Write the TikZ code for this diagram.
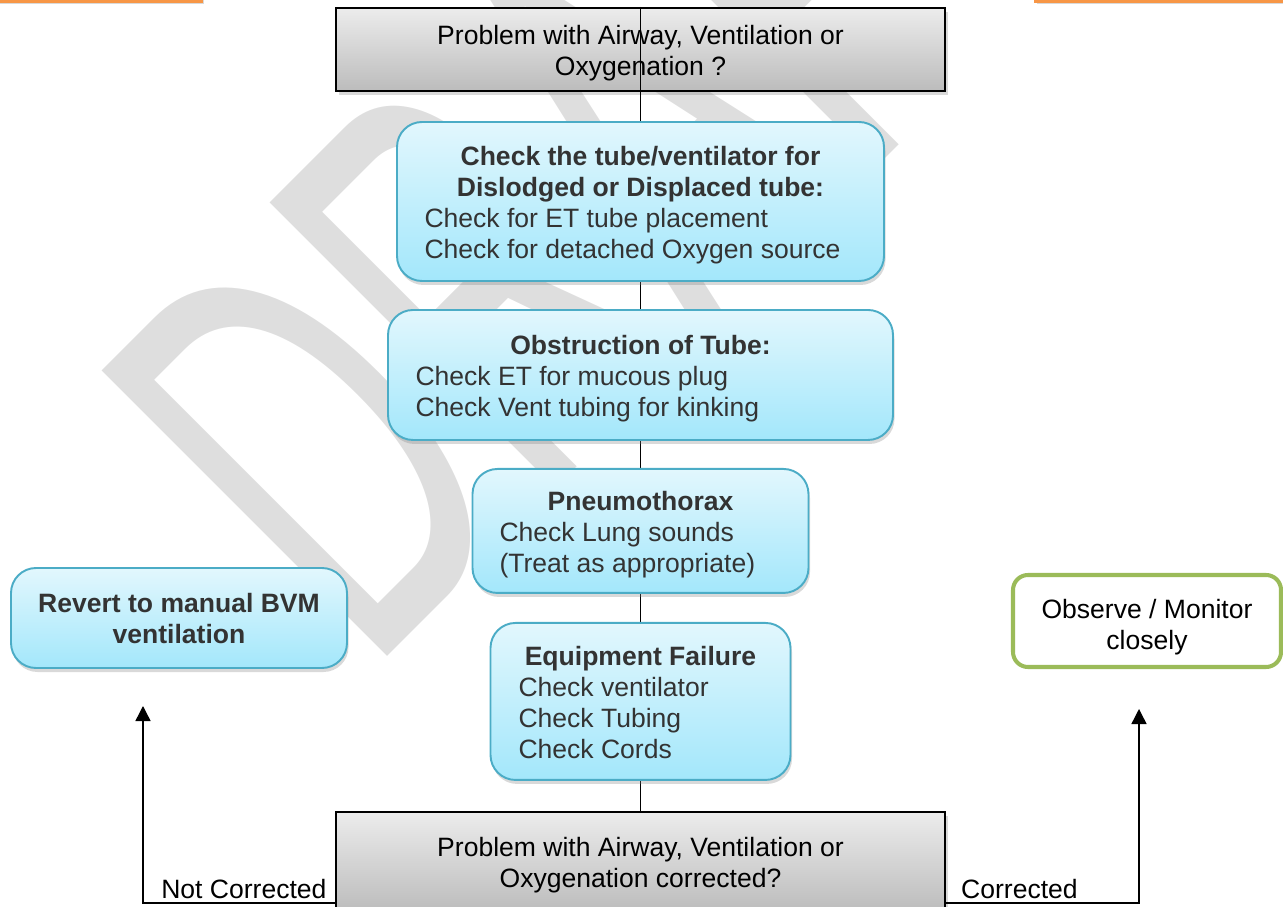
\documentclass[tikz,border=0pt]{standalone}
\usepackage{fontspec}
\setmainfont{Liberation Sans}
\newfontfamily\wmfont{Liberation Sans}
\usepackage{graphicx}
\usetikzlibrary{positioning,shadows,arrows.meta}
\definecolor{boxline}{RGB}{75,172,198}
\definecolor{boxtop}{RGB}{226,247,253}
\definecolor{boxbot}{RGB}{163,231,251}
\definecolor{greytop}{RGB}{236,236,236}
\definecolor{greybot}{RGB}{188,188,188}
\definecolor{okgreen}{RGB}{155,187,89}
\definecolor{txt}{RGB}{51,51,51}
\definecolor{wmgray}{RGB}{222,222,222}
\definecolor{orangeline}{RGB}{247,150,70}
\pgfdeclarelayer{bg}
\pgfsetlayers{bg,main}
\newcommand{\topgap}{\rule{0pt}{16.9pt}}
\newcommand{\boxhead}[1]{\multicolumn{1}{@{}c@{}}{\textbf{#1}}}
\tikzset{
  check/.style={rectangle, rounded corners=0.5cm, draw=boxline, line width=1.1pt,
    top color=boxtop, bottom color=boxbot, text=txt, inner sep=0pt,
    drop shadow={opacity=0.3, shadow xshift=0.03cm, shadow yshift=-0.08cm}},
  query/.style={rectangle, draw=black, line width=1.4pt, top color=greytop,
    bottom color=greybot, inner sep=0pt, minimum width=12.18cm,
    drop shadow={opacity=0.3, shadow xshift=0.05cm, shadow yshift=-0.08cm}},
  watch/.style={rectangle, rounded corners=0.3cm, draw=okgreen, line width=2.3pt,
    fill=white, inner sep=0pt},
  link/.style={line width=0.8pt},
  flow/.style={line width=0.8pt, -{Triangle[length=0.3cm,width=0.3cm]}},
  wm/.style={text=wmgray, inner sep=0pt, font=\wmfont\fontsize{334}{334}\selectfont},
}

\begin{document}
\begin{tikzpicture}[font=\fontsize{15.1}{17.6}\selectfont]
\useasboundingbox (0,0) rectangle (25.66,-18.14);

\begin{pgfonlayer}{bg}
% watermark and cut-off boxes above
\begin{scope}
\clip (0,0) rectangle (25.66,-18.14);
\node[wm, anchor=base west, rotate=45] (draft) at (7.36,-13.52) {\scalebox{0.56}[1]{DRAFT}};
\draw[orangeline, line width=1.2pt, fill=white,
  drop shadow={opacity=0.3, shadow xshift=0.03cm, shadow yshift=-0.06cm}] (-0.5,1) rectangle (4.04,-0.03);
\draw[orangeline, line width=1.2pt, fill=white,
  drop shadow={opacity=0.3, shadow xshift=0.03cm, shadow yshift=-0.06cm}] (20.70,1) rectangle (26.2,-0.03);
\end{scope}
\node[query, minimum height=1.66cm] (prob) at (12.81,-0.99)
  {\begin{tabular}{@{}c@{}}\topgap Problem with Airway, Ventilation or\\Oxygenation ?\end{tabular}};
\end{pgfonlayer}

% checks
\node[check, minimum width=9.74cm, minimum height=3.18cm, below=0.576cm of prob] (tube)
  {\begin{tabular}{@{}p{8.64cm}@{}}
   \boxhead{\topgap Check the tube/ventilator for}\\
   \boxhead{Dislodged or Displaced tube:}\\
   Check for ET tube placement\\
   Check for detached Oxygen source
   \end{tabular}};
\node[check, minimum width=10.1cm, minimum height=2.6cm, below=0.541cm of tube] (obst)
  {\begin{tabular}{@{}p{9.0cm}@{}}
   \boxhead{\topgap Obstruction of Tube:}\\
   Check ET for mucous plug\\
   Check Vent tubing for kinking
   \end{tabular}};
\node[check, minimum width=6.72cm, minimum height=2.48cm, below=0.541cm of obst] (pneumo)
  {\begin{tabular}{@{}p{5.64cm}@{}}
   \boxhead{\topgap Pneumothorax}\\
   Check Lung sounds\\
   (Treat as appropriate)
   \end{tabular}};
\node[check, minimum width=6.0cm, minimum height=3.14cm, below=0.561cm of pneumo] (equip)
  {\begin{tabular}{@{}p{4.88cm}@{}}
   \boxhead{\topgap Equipment Failure}\\
   Check ventilator\\
   Check Tubing\\
   Check Cords
   \end{tabular}};
\node[query, minimum height=2.0cm, below=0.596cm of equip] (fixed)
  {\begin{tabular}{@{}c@{}}\topgap Problem with Airway, Ventilation or\\Oxygenation corrected?\end{tabular}};

% outcomes
\node[check, minimum width=6.72cm, minimum height=2.0cm] (revert) at (3.58,-12.36)
  {\begin{tabular}{@{}c@{}}\topgap\textbf{Revert to manual BVM}\\\textbf{ventilation}\end{tabular}};
\node[watch, minimum width=5.36cm, minimum height=1.84cm] (observe) at (22.94,-12.42)
  {\begin{tabular}{@{}c@{}}\rule{0pt}{20.3pt}Observe / Monitor\\closely\end{tabular}};

\begin{pgfonlayer}{bg}
\draw[link] (prob.north) -- (fixed.north);
\end{pgfonlayer}

\coordinate (ncTip) at (2.86,-14.12);
\coordinate (cTip) at (22.78,-14.18);
\draw[flow] ([yshift=0.2cm]fixed.south west) -| (ncTip)
  node[pos=0.237, above, inner sep=2pt] {Not Corrected};
\draw[flow] ([yshift=0.2cm]fixed.south east) -| (cTip)
  node[pos=0.19, above, inner sep=2pt] {Corrected};
\end{tikzpicture}
\end{document}
